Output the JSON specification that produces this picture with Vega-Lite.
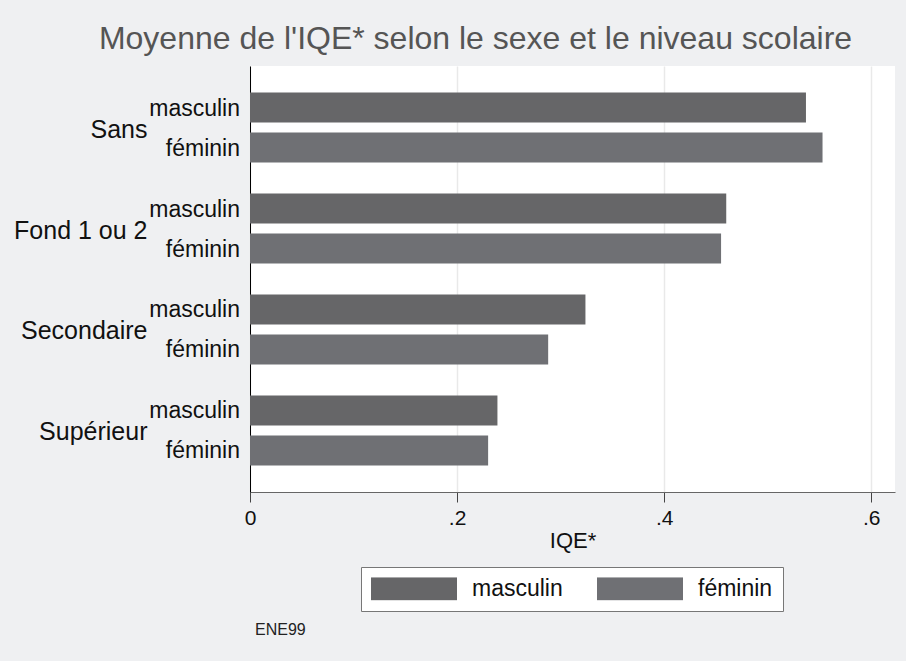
{
  "$schema": "https://vega.github.io/schema/vega-lite/v6.json",
  "width": 645,
  "height": 426,
  "autosize": "none",
  "padding": {"left": 250, "top": 66, "right": 11, "bottom": 169},
  "background": "#eff0f2",
  "config": {"font": "Liberation Sans", "view": {"fill": "white", "stroke": null}},
  "title": {"text": "Moyenne de l'IQE* selon le sexe et le niveau scolaire", "fontSize": 32, "fontWeight": "normal", "color": "#555555", "anchor": "middle", "dx": -97, "offset": 10},
  "datasets": {
    "bars": [
      {"niveau": "Sans", "sexe": "masculin", "iqe": 0.537},
      {"niveau": "Sans", "sexe": "féminin", "iqe": 0.553},
      {"niveau": "Fond 1 ou 2", "sexe": "masculin", "iqe": 0.460},
      {"niveau": "Fond 1 ou 2", "sexe": "féminin", "iqe": 0.455},
      {"niveau": "Secondaire", "sexe": "masculin", "iqe": 0.324},
      {"niveau": "Secondaire", "sexe": "féminin", "iqe": 0.288},
      {"niveau": "Supérieur", "sexe": "masculin", "iqe": 0.239},
      {"niveau": "Supérieur", "sexe": "féminin", "iqe": 0.230}
    ],
    "note": [{"note": "ENE99"}]
  },
  "layer": [
    {
      "data": {"name": "bars"},
      "mark": {"type": "bar"},
      "encoding": {
        "y": {"field": "niveau", "type": "nominal", "sort": ["Sans", "Fond 1 ou 2", "Secondaire", "Supérieur"], "scale": {"paddingInner": 0, "paddingOuter": 0.109},
          "axis": {"title": null, "ticks": false, "tickSize": 0, "labelPadding": 103, "labelOffset": 2, "labelFontSize": 25, "labelColor": "#111111", "domainColor": "#000000", "domainWidth": 1, "grid": false}},
        "yOffset": {"field": "sexe", "type": "nominal", "sort": ["masculin", "féminin"], "scale": {"paddingInner": 0.25, "paddingOuter": 0.3875}},
        "x": {"field": "iqe", "type": "quantitative", "scale": {"domain": [0, 0.623], "nice": false},
          "axis": {"values": [0, 0.2, 0.4, 0.6], "labelExpr": "datum.value == 0 ? '0' : substring(format(datum.value, '.1f'), 1)", "labelFlush": false, "labelFontSize": 21, "labelColor": "#111111", "labelPadding": 5, "tickSize": 10, "tickColor": "#444444", "domainColor": "#666666", "title": "IQE*", "titleFontSize": 22, "titleFontWeight": "normal", "titleColor": "#111111", "titlePadding": 2, "grid": true, "gridColor": "#e9e9e9", "gridWidth": 1.5}},
        "color": {"field": "sexe", "type": "nominal", "sort": ["masculin", "féminin"], "scale": {"domain": ["masculin", "féminin"], "range": ["#666668", "#6f7074"]},
          "legend": {"orient": "none", "legendX": 111, "legendY": 501, "direction": "horizontal", "title": null, "fillColor": "white", "strokeColor": "#777777", "padding": 10, "symbolType": "M-1,-0.267H1V0.267H-1Z", "symbolSize": 7396, "symbolStrokeWidth": 0, "symbolOpacity": 1, "labelFontSize": 23, "labelColor": "#111111", "labelOffset": 15, "columnPadding": 34, "clipHeight": 23}}
      }
    },
    {
      "data": {"name": "bars"},
      "mark": {"type": "text", "align": "right", "baseline": "middle", "dx": -10, "dy": 1, "fontSize": 23, "color": "#111111"},
      "encoding": {
        "y": {"field": "niveau", "type": "nominal", "sort": ["Sans", "Fond 1 ou 2", "Secondaire", "Supérieur"]},
        "yOffset": {"field": "sexe", "type": "nominal", "sort": ["masculin", "féminin"]},
        "x": {"datum": 0},
        "text": {"field": "sexe"}
      }
    },
    {
      "data": {"name": "note"},
      "mark": {"type": "text", "align": "left", "baseline": "middle", "dx": 5, "fontSize": 16, "color": "#222222"},
      "encoding": {
        "x": {"datum": 0},
        "y": {"value": 564},
        "text": {"field": "note"}
      }
    }
  ]
}
